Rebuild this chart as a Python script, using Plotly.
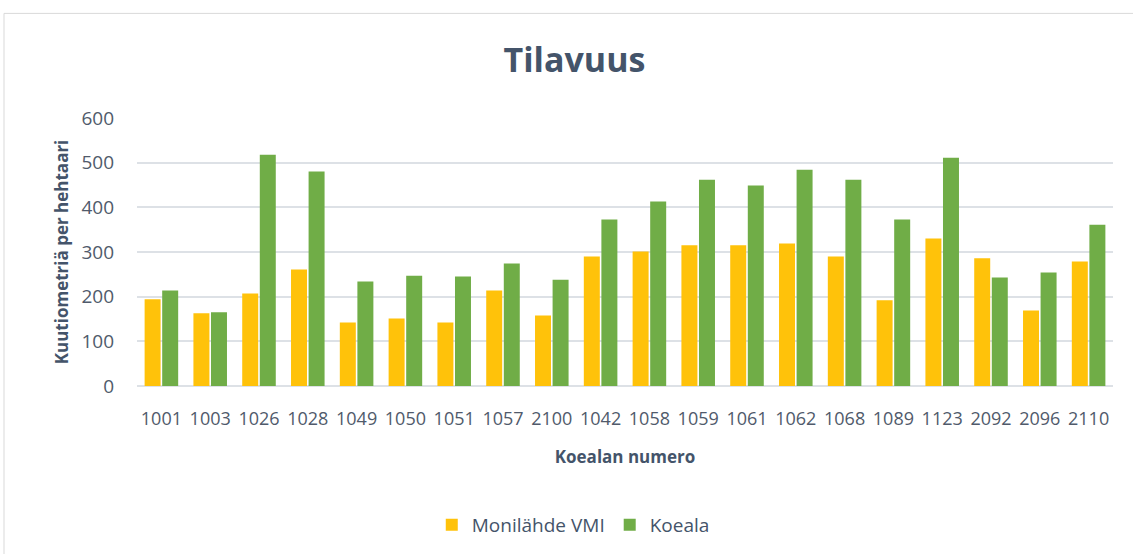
import plotly.graph_objects as go

categories = ["1001", "1003", "1026", "1028", "1049", "1050", "1051", "1057", "2100", "1042",
              "1058", "1059", "1061", "1062", "1068", "1089", "1123", "2092", "2096", "2110"]
monilahde_vmi = [194, 163, 207, 261, 142, 151, 142, 214, 158, 290,
                 301, 315, 315, 319, 290, 192, 330, 286, 169, 279]
koeala = [214, 165, 518, 480, 234, 247, 245, 274, 238, 373,
          413, 462, 449, 484, 462, 373, 511, 243, 254, 361]

series_names = ["Monilähde VMI", "Koeala"]
yticks = [0, 100, 200, 300, 400, 500, 600]

TXT = "#44546A"
GRID = "#DDE1E6"

fig = go.Figure()
fig.add_trace(go.Bar(x=categories, y=monilahde_vmi, name=series_names[0],
                     marker=dict(color="#FFC20A", line=dict(width=0))))
fig.add_trace(go.Bar(x=categories, y=koeala, name=series_names[1],
                     marker=dict(color="#70AD47", line=dict(width=0))))

fig.update_layout(
    width=1133, height=554,
    margin=dict(l=137, r=20, t=118, b=167),
    paper_bgcolor="white", plot_bgcolor="white",
    barmode="group", bargap=0.28, bargroupgap=0.09,
    font=dict(family="Open Sans", color=TXT),
    title=dict(text="<b>Tilavuus</b>", x=0.507, xanchor="center", y=1 - 60 / 554, yanchor="middle",
               font=dict(size=34, color=TXT, family="Open Sans")),
    xaxis=dict(
        type="category",
        tickfont=dict(size=18, color="#505A6B", family="Open Sans"),
        title=dict(text="<b>Koealan numero</b>", font=dict(size=17, color=TXT), standoff=22),
        showline=False, ticks="", showgrid=False, ticklabelstandoff=20,
    ),
    yaxis=dict(
        range=[0, 600], tickvals=yticks,
        tickfont=dict(size=19, color="#505A6B", family="Open Sans"),
        showgrid=True, gridcolor=GRID, gridwidth=1.5,
        zeroline=True, zerolinecolor=GRID, zerolinewidth=1.5,
        showline=False, ticks="", ticklabelstandoff=22,
        title=dict(text="<b>Kuutiometriä per hehtaari</b>", font=dict(size=17, color=TXT), standoff=8),
    ),
    legend=dict(orientation="h", x=0.447, xanchor="center", y=-0.513, yanchor="middle",
                font=dict(size=19, color=TXT), itemwidth=30),
    shapes=[dict(type="rect", xref="paper", yref="paper",
                 x0=(4 - 137) / 976, x1=(1140 - 137) / 976,
                 y0=(387 - 560) / 269, y1=(387 - 13) / 269,
                 line=dict(color="#D9D9D9", width=1), fillcolor="rgba(0,0,0,0)", layer="below")],
)

fig.write_html("out.html", config={"displayModeBar": False},
               post_script="document.body.style.margin='0';")
